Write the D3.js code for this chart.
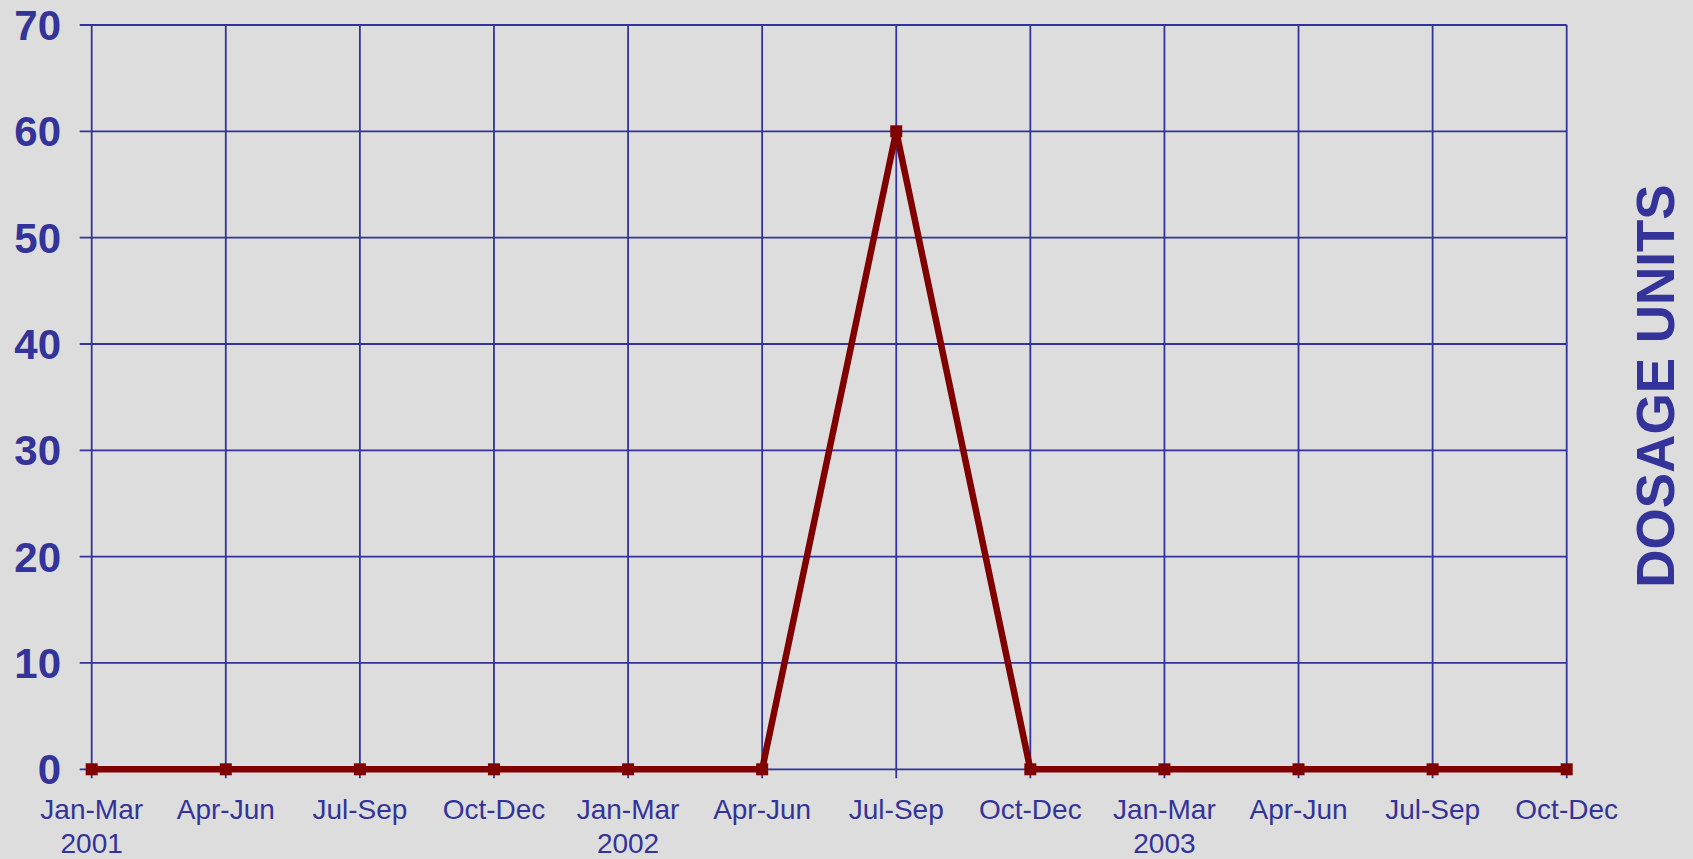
<!DOCTYPE html>
<html><head><meta charset="utf-8">
<script src="https://cdn.jsdelivr.net/npm/d3@7"></script>
<style>
html,body{margin:0;padding:0;background:#dddddd;}
svg{display:block;}
text{font-family:"Liberation Sans",Arial,sans-serif;fill:#333399;}
</style></head><body>
<svg id="chart" width="1693" height="859"></svg>
<script>
const quarters = ["Jan-Mar","Apr-Jun","Jul-Sep","Oct-Dec","Jan-Mar","Apr-Jun","Jul-Sep","Oct-Dec","Jan-Mar","Apr-Jun","Jul-Sep","Oct-Dec"];
const years = ["2001","","","","2002","","","","2003","","",""];
const values = [0,0,0,0,0,0,60,0,0,0,0,0];
const yTicks = [0,10,20,30,40,50,60,70];
const yTitle = "DOSAGE UNITS";

(function(){
const svg = d3.select("#chart");
const W = 1693, H = 859;
svg.append("rect").attr("width",W).attr("height",H).attr("fill","#dddddd");
const pL = 91.7, pR = 1566.7, pT = 25, pB = 769.3;
const idx = d3.range(quarters.length);
const x = d3.scalePoint().domain(idx).range([pL,pR]);
const y = d3.scaleLinear().domain([0,70]).range([pB,pT]);
const blue = "#333399";

const g = svg.append("g");
g.selectAll(".hg").data(yTicks).join("line")
  .attr("x1",pL-12).attr("x2",pR).attr("y1",d=>y(d)).attr("y2",d=>y(d))
  .attr("stroke",blue).attr("stroke-width",1.8);
g.selectAll(".vg").data(idx).join("line")
  .attr("x1",d=>x(d)).attr("x2",d=>x(d)).attr("y1",pT).attr("y2",pB+9)
  .attr("stroke",blue).attr("stroke-width",1.8);

svg.append("g").selectAll("text").data(yTicks).join("text")
  .attr("x",61).attr("y",d=>y(d)).attr("dy","0.36em")
  .attr("text-anchor","end").attr("font-weight","bold").attr("font-size",42)
  .text(d=>d);

const xl = svg.append("g").selectAll("g").data(idx).join("g");
xl.append("text").attr("x",d=>x(d)).attr("y",819).attr("text-anchor","middle")
  .attr("font-size",28).text(d=>quarters[d]);
xl.append("text").attr("x",d=>x(d)).attr("y",853).attr("text-anchor","middle")
  .attr("font-size",28).text(d=>years[d]);

const line = d3.line().x((d,i)=>x(i)).y(d=>y(d));
svg.append("path").datum(values).attr("d",line).attr("fill","none")
  .attr("stroke","#800000").attr("stroke-width",6.5).attr("stroke-linejoin","miter");
svg.append("g").selectAll("rect").data(values).join("rect")
  .attr("x",(d,i)=>x(i)-6).attr("y",d=>y(d)-6).attr("width",12).attr("height",12)
  .attr("fill","#800000");

svg.append("text").attr("transform","translate(1674,386) rotate(-90)")
  .attr("text-anchor","middle").attr("font-weight","bold").attr("font-size",53)
  .text(yTitle);
})();
</script></body></html>
